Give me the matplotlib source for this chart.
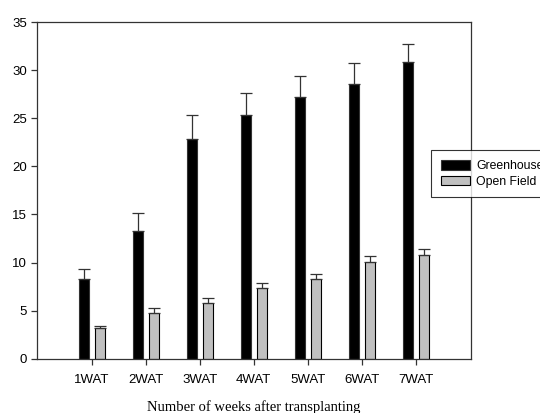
import matplotlib
matplotlib.use('Agg')
import matplotlib.pyplot as plt
import numpy as np

# Data
weeks = ['1WAT', '2WAT', '3WAT', '4WAT', '5WAT', '6WAT', '7WAT']
greenhouse = [8.3, 13.3, 22.8, 25.3, 27.2, 28.6, 30.8]
greenhouse_err = [1.0, 1.8, 2.5, 2.3, 2.2, 2.1, 1.9]
open_field = [3.2, 4.8, 5.8, 7.4, 8.3, 10.1, 10.8]
open_field_err = [0.25, 0.5, 0.5, 0.5, 0.5, 0.6, 0.6]

plt.rcParams['font.family'] = ['Liberation Sans', 'DejaVu Sans']

fig = plt.figure(figsize=(5.4, 4.13), dpi=100)
ax = fig.add_axes([0.069, 0.1315, 0.803, 0.815])

x = np.arange(len(weeks))
w = 0.185
off = 0.148

ax.bar(x - off, greenhouse, w, color='black', edgecolor='#333333', linewidth=0.8,
       yerr=[np.zeros(len(weeks)), greenhouse_err], ecolor='#333333',
       error_kw=dict(capsize=4, elinewidth=0.9, capthick=0.9), label='Greenhouse')
ax.bar(x + off, open_field, w, color='#c0c0c0', edgecolor='black', linewidth=0.8,
       yerr=[np.zeros(len(weeks)), open_field_err], ecolor='#333333',
       error_kw=dict(capsize=4, elinewidth=0.9, capthick=0.9), label='Open Field')

ax.set_xlim(-1.006, 7.02)
ax.set_ylim(0, 35)
ax.set_yticks(range(0, 36, 5))
ax.set_xticks(x)
ax.set_xticklabels(weeks)
ax.tick_params(axis='both', labelsize=9.5, length=4, color='#333333', width=0.9)
ax.tick_params(axis='x', pad=7)
for s in ax.spines.values():
    s.set_color('#333333')
    s.set_linewidth(0.9)

ax.set_xlabel('Number of weeks after transplanting', family='Liberation Serif',
              fontsize=10.5, labelpad=10)

# legend sits partly outside the figure, as in the original
leg = fig.legend(loc='upper left', bbox_to_anchor=(431 / 540, 1 - 150 / 413),
                 fontsize=8.8, frameon=True, fancybox=False, edgecolor='black',
                 handlelength=2.4, handleheight=0.85, handletextpad=0.5,
                 borderpad=0.8, labelspacing=0.3, borderaxespad=0)
leg.get_frame().set_linewidth(0.8)

fig.savefig('out.png', dpi=100)
